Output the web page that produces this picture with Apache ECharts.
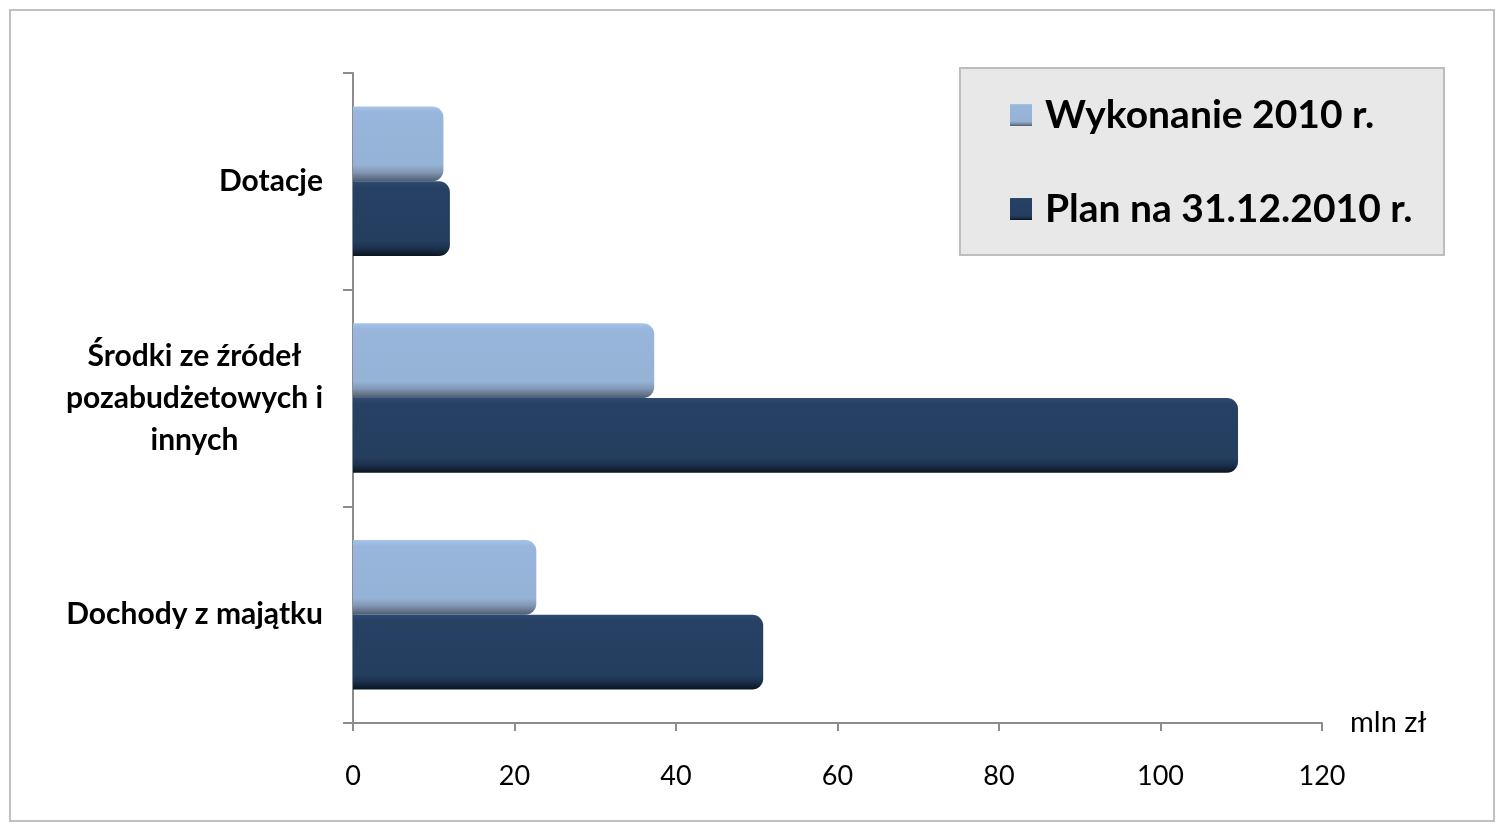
<!DOCTYPE html>
<html>
<head>
<meta charset="utf-8">
<script src="https://cdn.jsdelivr.net/npm/echarts@6/dist/echarts.min.js"></script>
<style>
html,body{margin:0;padding:0;background:#fff;}
#chart{width:1503px;height:830px;}
</style>
</head>
<body>
<div id="chart"></div>
<script>
// Categories listed bottom to top (ECharts category y-axis runs upward)
var categories = ['Dochody z majątku', 'Środki ze źródeł\npozabudżetowych i\ninnych', 'Dotacje'];
var seriesNames = ['Wykonanie 2010 r.', 'Plan na 31.12.2010 r.'];
var wykonanie = [22.7, 37.3, 11.2];
var plan = [50.8, 109.6, 12.0];
var xTicks = { min: 0, max: 120, interval: 20 };
var unitLabel = 'mln zł';

var FONT = 'Lato, "Open Sans", sans-serif';

var lightGrad = new echarts.graphic.LinearGradient(0, 0, 0, 1, [
  { offset: 0, color: '#a6c4ea' },
  { offset: 0.08, color: '#98b6db' },
  { offset: 0.78, color: '#95b3d7' },
  { offset: 0.88, color: '#8196b2' },
  { offset: 1, color: '#4e5d70' }
]);
var darkGrad = new echarts.graphic.LinearGradient(0, 0, 0, 1, [
  { offset: 0, color: '#2d4c74' },
  { offset: 0.08, color: '#264163' },
  { offset: 0.8, color: '#243e60' },
  { offset: 0.9, color: '#1b304b' },
  { offset: 1, color: '#0b1420' }
]);

var chart = echarts.init(document.getElementById('chart'));
chart.setOption({
  backgroundColor: '#ffffff',
  animation: false,
  graphic: [
    { type: 'rect', z: 0, shape: { x: 10, y: 10, width: 1484, height: 811 },
      style: { fill: 'none', stroke: '#c0c0c0', lineWidth: 2 } },
    { type: 'rect', z: 0, shape: { x: 960, y: 68, width: 484, height: 187 },
      style: { fill: '#e8e8e8', stroke: '#bdbdbd', lineWidth: 2 } }
  ],
  grid: { left: 353, right: 181, top: 73, bottom: 107, containLabel: false },
  legend: {
    z: 10,
    data: seriesNames,
    orient: 'vertical',
    left: 1005,
    top: 88,
    itemWidth: 22,
    itemHeight: 22,
    itemGap: 50,
    icon: 'rect',
    textStyle: { fontFamily: FONT, fontWeight: 'bold', fontSize: 39, lineHeight: 44, color: '#000', padding: [0, 0, 0, 8] }
  },
  xAxis: {
    type: 'value',
    min: xTicks.min, max: xTicks.max, interval: xTicks.interval,
    name: unitLabel,
    nameLocation: 'end',
    nameGap: 28,
    nameTextStyle: { fontFamily: FONT, fontSize: 29, color: '#000', align: 'left', verticalAlign: 'middle', padding: [6, 0, 0, 0] },
    axisLine: { show: true, lineStyle: { color: '#8c8c8c', width: 2 } },
    axisTick: { show: true, length: 8, lineStyle: { color: '#8c8c8c', width: 2 } },
    splitLine: { show: false },
    axisLabel: { fontFamily: FONT, fontSize: 27, color: '#000', margin: 40 }
  },
  yAxis: {
    type: 'category',
    data: categories,
    axisLine: { show: true, lineStyle: { color: '#8c8c8c', width: 2 } },
    axisTick: { show: true, length: 10, lineStyle: { color: '#8c8c8c', width: 2 } },
    splitLine: { show: false },
    axisLabel: {
      margin: 30,
      align: 'right',
      formatter: function (v) {
        return v.split('\n').map(function (s) { return '{c|' + s + '}'; }).join('\n');
      },
      rich: {
        c: { fontFamily: FONT, fontWeight: 'bold', fontSize: 30, lineHeight: 42, color: '#000', align: 'center' }
      }
    }
  },
  series: [
    {
      name: seriesNames[0], type: 'bar', data: wykonanie,
      barGap: '0%', barCategoryGap: '31%',
      itemStyle: { color: lightGrad, borderRadius: [0, 11, 11, 0] }
    },
    {
      name: seriesNames[1], type: 'bar', data: plan,
      barGap: '0%', barCategoryGap: '31%',
      itemStyle: { color: darkGrad, borderRadius: [0, 11, 11, 0] }
    }
  ]
});
</script>
</body>
</html>
